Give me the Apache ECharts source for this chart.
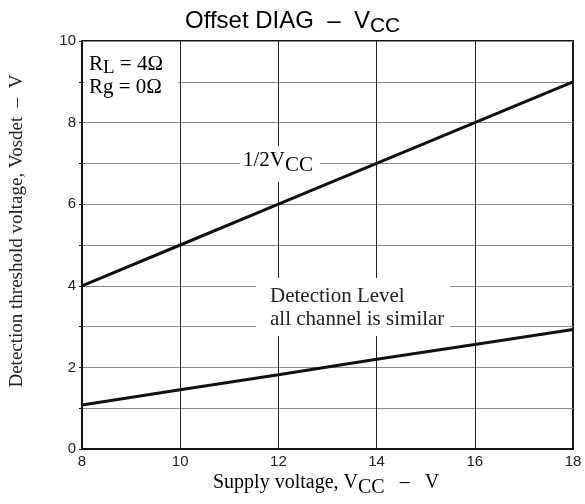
<!DOCTYPE html>
<html>
<head>
<meta charset="utf-8">
<script src="https://cdn.jsdelivr.net/npm/echarts@6/dist/echarts.min.js"></script>
<style>
  html, body { margin: 0; padding: 0; background: #fff; }
  #chart { width: 585px; height: 504px; }
</style>
</head>
<body>
<div id="chart"></div>
<script>
  // supply voltage VCC (V)
  const vcc = [8, 10, 12, 14, 16, 18]
  // 1/2 VCC line
  const halfVcc = [4, 5, 6, 7, 8, 9]
  // detection level
  const detLevel = [1.08, 1.45, 1.82, 2.2, 2.56, 2.93]

  const serif = '"Liberation Serif", "DejaVu Serif", serif'
  const sans = '"Liberation Sans", Arial, sans-serif'

  const chart = echarts.init(document.getElementById('chart'))

  const sub = {
    fontFamily: serif,
    fontSize: 19,
    color: '#222',
    padding: [12, 0, 0, 0]
  }

  const option = {
    backgroundColor: '#fff',
    animation: false,
    grid: {
      left: 82,
      top: 41,
      width: 491,
      height: 408,
      show: true,
      borderColor: '#111',
      borderWidth: 2
    },
    xAxis: {
      type: 'value',
      min: 8,
      max: 18,
      interval: 2,
      axisLine: { show: true, lineStyle: { color: '#111', width: 2 } },
      axisTick: { show: false },
      axisLabel: { color: '#222', fontFamily: sans, fontSize: 15, margin: 5 },
      splitLine: { show: true, lineStyle: { color: '#222', width: 1 } }
    },
    yAxis: {
      type: 'value',
      min: 0,
      max: 10,
      interval: 1,
      axisLine: { show: true, lineStyle: { color: '#111', width: 2 } },
      axisTick: { show: true, inside: false, length: 3, lineStyle: { color: '#111' } },
      axisLabel: {
        color: '#222', fontFamily: sans, fontSize: 15, margin: 6,
        formatter: v => (v % 2 === 0 ? String(v) : '')
      },
      splitLine: { show: true, lineStyle: { color: '#888', width: 1 } }
    },
    series: [
      {
        name: '1/2VCC',
        type: 'line',
        data: vcc.map((x, i) => [x, halfVcc[i]]),
        symbol: 'none',
        z: 5,
        lineStyle: { color: '#111', width: 3 }
      },
      {
        name: 'Detection Level',
        type: 'line',
        data: vcc.map((x, i) => [x, detLevel[i]]),
        symbol: 'none',
        z: 5,
        lineStyle: { color: '#111', width: 3 }
      }
    ],
    graphic: [
      // title
      {
        type: 'text', left: 185, top: 9, z: 10,
        style: {
          text: '{m|Offset DIAG  –  V}{s|CC}',
          rich: {
            m: { fontFamily: sans, fontSize: 24, color: '#222' },
            s: { fontFamily: sans, fontSize: 21, color: '#222', padding: [11, 0, 0, 0] }
          }
        }
      },
      // RL / Rg box
      { type: 'rect', shape: { x: 84, y: 52, width: 94, height: 50 }, style: { fill: '#fff' }, z: 1 },
      {
        type: 'text', left: 89, top: 51, z: 3,
        style: {
          text: '{m|R}{s|L}{m| = 4Ω}\n{m|Rg = 0Ω}',
          rich: {
            m: { fontFamily: serif, fontSize: 21, color: '#222', lineHeight: 23 },
            s: Object.assign({}, sub, { fontSize: 19, lineHeight: 23, padding: [8, 0, 0, 0] })
          }
        }
      },
      // 1/2 VCC label
      { type: 'rect', shape: { x: 240, y: 146, width: 80, height: 36 }, style: { fill: '#fff' }, z: 1 },
      {
        type: 'text', left: 243, top: 150, z: 3,
        style: {
          text: '{m|1/2V}{s|CC}',
          rich: {
            m: { fontFamily: serif, fontSize: 21, color: '#222' },
            s: Object.assign({}, sub, { fontSize: 21, padding: [10, 0, 0, 0] })
          }
        }
      },
      // detection level label
      { type: 'rect', shape: { x: 256, y: 278, width: 194, height: 58 }, style: { fill: '#fff' }, z: 1 },
      {
        type: 'text', left: 270, top: 285, z: 3,
        style: {
          text: 'Detection Level\nall channel is similar',
          fontFamily: serif, fontSize: 21, lineHeight: 23, fill: '#222'
        }
      },
      // x axis name
      {
        type: 'text', left: 213, top: 473, z: 3,
        style: {
          text: '{m|Supply voltage, V}{s|CC}{m|   –   V}',
          rich: {
            m: { fontFamily: serif, fontSize: 20, color: '#222' },
            s: Object.assign({}, sub, { fontSize: 20, padding: [10, 0, 0, 0] })
          }
        }
      },
      // y axis name
      {
        type: 'text', x: 17, y: 231, rotation: Math.PI / 2, z: 3,
        style: {
          text: 'Detection threshold voltage, Vosdet  –  V',
          fontFamily: serif, fontSize: 19, fill: '#222',
          align: 'center', verticalAlign: 'middle'
        }
      }
    ]
  }

  chart.setOption(option)
</script>
</body>
</html>
